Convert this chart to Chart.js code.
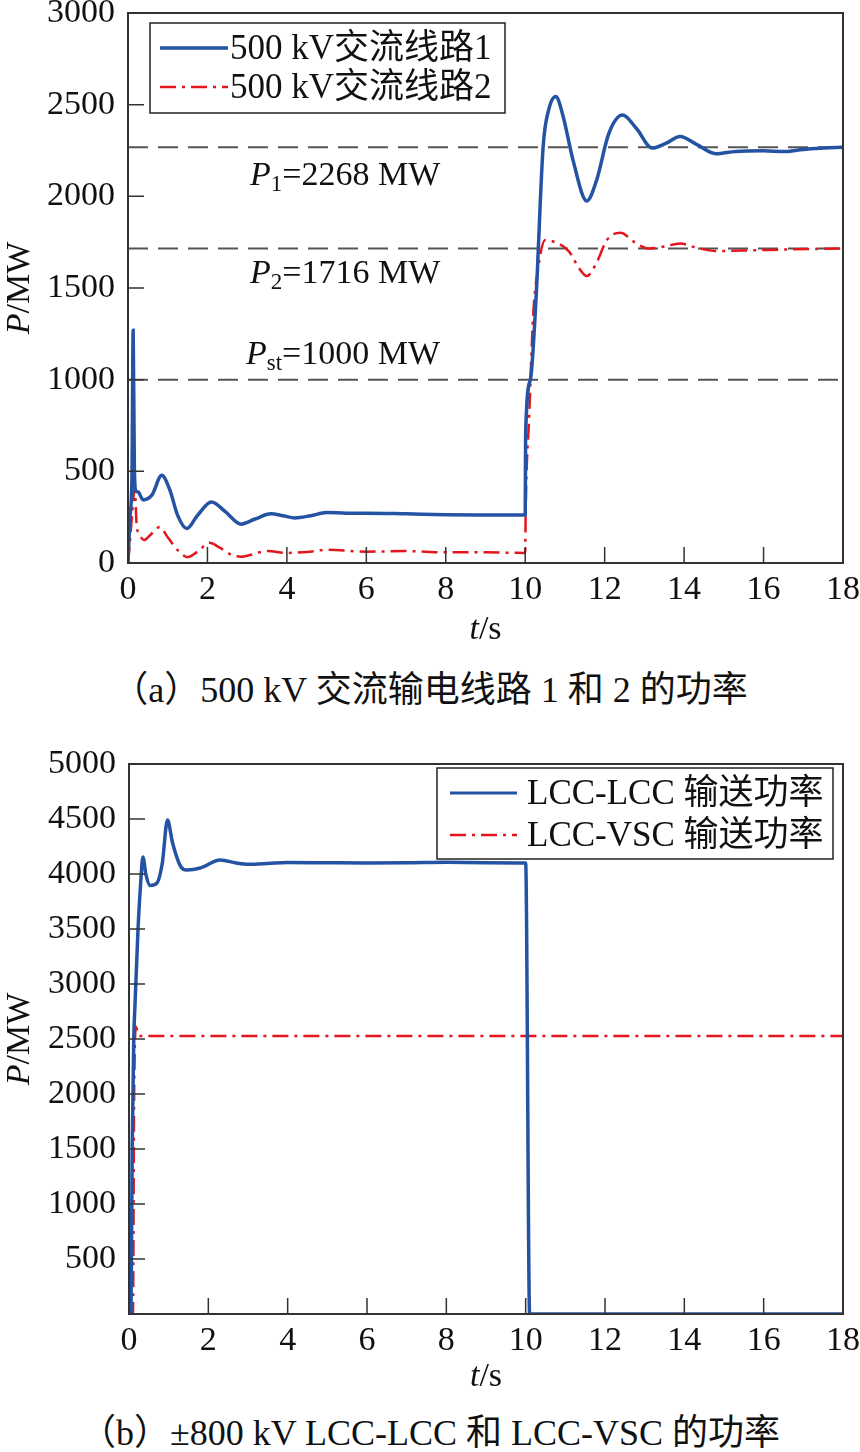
<!DOCTYPE html>
<html lang="zh-CN">
<head>
<meta charset="UTF-8">
<title>交流线路与直流功率</title>
<script src="https://cdn.jsdelivr.net/npm/chart.js"></script>
<style>
    body {
        margin: 0;
        width: 860px;
        height: 1452px;
        position: relative;
        overflow: hidden;
        background: #fff;
        font-family: "Liberation Serif", "Noto Sans CJK SC", serif;
        color: #111;
    }
    canvas {
        position: absolute;
        left: 0;
    }
    #chartA { top: 0; }
    #chartB { top: 740px; }
    .caption {
        position: absolute;
        left: 0;
        width: 860px;
        text-align: center;
        font-size: 36px;
        line-height: 40px;
    }
</style>
</head>
<body>

<canvas id="chartA" width="860" height="650"></canvas>
<div class="caption" style="top:670px">（a）500 kV 交流输电线路 1 和 2 的功率</div>

<canvas id="chartB" width="860" height="660"></canvas>
<div class="caption" style="top:1413px">（b）±800 kV LCC-LCC 和 LCC-VSC 的功率</div>

<script>
    // (a) 500 kV AC lines, [t (s), P (MW)]
    const line1 = [
        [0, 0], [0.05, 250], [0.10, 480], [0.13, 1270], [0.16, 520], [0.20, 390], [0.25, 388],
        [0.38, 344], [0.6, 370], [0.85, 478], [1.05, 400], [1.25, 260], [1.48, 188], [1.75, 260],
        [2.1, 333], [2.45, 280], [2.85, 212], [3.2, 240], [3.6, 268], [3.9, 258], [4.2, 246],
        [4.6, 258], [5.0, 275], [5.5, 272], [6.0, 272], [7.0, 268], [8.0, 263], [9.0, 262],
        [10.0, 262], [10.01, 700], [10.13, 1000], [10.27, 1434], [10.45, 2268], [10.6, 2480],
        [10.77, 2545], [10.95, 2440], [11.2, 2200], [11.55, 1975], [11.8, 2090], [12.1, 2340],
        [12.45, 2443], [12.8, 2370], [13.2, 2263], [13.55, 2290], [13.9, 2326], [14.3, 2285],
        [14.8, 2232], [15.3, 2245], [16.0, 2248], [16.5, 2244], [17.0, 2256], [17.5, 2263], [18.0, 2268]
    ];
    const line2 = [
        [0, 0], [0.05, 120], [0.10, 260], [0.17, 405], [0.22, 200], [0.27, 165], [0.4, 125],
        [0.55, 150], [0.8, 196], [1.0, 140], [1.25, 70], [1.5, 32], [1.75, 62], [2.05, 110],
        [2.3, 85], [2.6, 45], [2.85, 34], [3.1, 45], [3.5, 65], [4.0, 55], [4.5, 60], [5.0, 72],
        [6.0, 62], [7.0, 65], [8.0, 58], [9.0, 58], [10.0, 55], [10.01, 260], [10.1, 800],
        [10.2, 1350], [10.32, 1600], [10.5, 1762], [10.8, 1745], [11.1, 1700], [11.35, 1610],
        [11.55, 1565], [11.8, 1640], [12.05, 1760], [12.4, 1802], [12.75, 1750], [13.1, 1716],
        [13.5, 1726], [13.9, 1743], [14.3, 1720], [14.8, 1702], [15.5, 1704], [16.5, 1710],
        [17.5, 1714], [18.0, 1716]
    ];
    const refValues = [2268, 1716, 1000];

    // (b) ±800 kV DC links, [t (s), P (MW)]
    const lccLcc = [
        [0, 0], [0.05, 0], [0.08, 1500], [0.12, 2500], [0.15, 2800], [0.23, 3520], [0.3, 3950],
        [0.35, 4155], [0.43, 3990], [0.53, 3895], [0.7, 3915], [0.84, 4100], [0.97, 4490],
        [1.1, 4280], [1.3, 4070], [1.46, 4036], [1.8, 4055], [2.3, 4127], [2.7, 4100],
        [3.0, 4088], [3.5, 4095], [4.0, 4105], [5.0, 4102], [6.0, 4100], [7.0, 4102],
        [8.0, 4106], [9.0, 4103], [10.0, 4100], [10.1, 0], [11.0, 0], [18.0, 0]
    ];
    const lccVsc = [
        [0, 0], [0.1, 0], [0.13, 2000], [0.18, 2610], [0.23, 2540], [0.3, 2527], [18.0, 2527]
    ];

    const xTicksMax = 18;
    const legendA = ['500 kV交流线路1', '500 kV交流线路2'];
    const legendB = ['LCC-LCC 输送功率', 'LCC-VSC 输送功率'];

    const BLUE = '#2553a3';
    const RED = '#e3161d';
    const SERIF = '"Liberation Serif", "Noto Sans CJK SC", serif';
    const redDash = [16, 6, 3, 6];
    const TICK_SIZE = 34;

    function font(size, italic) {
        return (italic ? 'italic ' : '') + size + 'px ' + SERIF;
    }

    // draws mixed italic / subscript text
    function richText(ctx, parts, x, y, align, size) {
        let w = 0;
        parts.forEach(p => {
            ctx.font = font(p.size || size, p.it);
            p.w = ctx.measureText(p.t).width;
            w += p.w;
        });
        let cx = align === 'center' ? x - w / 2 : x;
        ctx.textAlign = 'left';
        ctx.textBaseline = 'middle';
        ctx.fillStyle = '#111';
        parts.forEach(p => {
            ctx.font = font(p.size || size, p.it);
            ctx.fillText(p.t, cx, y + (p.dy || 0));
            cx += p.w;
        });
    }

    function makeFrame(cfg) {
        return {
            id: 'frame',
            afterDatasetsDraw(chart) {
                const ctx = chart.ctx;
                const a = chart.chartArea;
                const xs = chart.scales.x, ys = chart.scales.y;
                ctx.save();
                ctx.strokeStyle = '#333';
                ctx.lineWidth = 2;
                ctx.strokeRect(a.left, a.top, a.right - a.left, a.bottom - a.top);

                // inward tick marks
                ctx.lineWidth = 1.5;
                ctx.beginPath();
                ys.ticks.forEach(t => {
                    const py = ys.getPixelForValue(t.value);
                    ctx.moveTo(a.left, py);
                    ctx.lineTo(a.left + 16, py);
                });
                xs.ticks.forEach(t => {
                    const px = xs.getPixelForValue(t.value);
                    ctx.moveTo(px, a.bottom);
                    ctx.lineTo(px, a.bottom - 16);
                });
                ctx.stroke();

                // axis titles
                richText(ctx, [{t: 't', it: true}, {t: '/s'}], (a.left + a.right) / 2, cfg.tY, 'center', 34);
                ctx.save();
                ctx.translate(20, (a.top + a.bottom) / 2);
                ctx.rotate(-Math.PI / 2);
                richText(ctx, [{t: 'P', it: true}, {t: '/MW'}], 0, 0, 'center', 34);
                ctx.restore();

                // reference labels
                (cfg.notes || []).forEach(n => {
                    richText(ctx, n.parts, n.x, ys.getPixelForValue(n.value) + n.off, 'left', 34);
                });

                // legend box
                const L = cfg.legend;
                ctx.fillStyle = '#fff';
                ctx.fillRect(L.box[0], L.box[1], L.box[2] - L.box[0], L.box[3] - L.box[1]);
                ctx.strokeStyle = '#222';
                ctx.lineWidth = 1.5;
                ctx.strokeRect(L.box[0], L.box[1], L.box[2] - L.box[0], L.box[3] - L.box[1]);
                L.items.forEach(it => {
                    ctx.beginPath();
                    ctx.strokeStyle = it.color;
                    ctx.lineWidth = it.width;
                    ctx.setLineDash(it.dash);
                    ctx.moveTo(L.x0, it.y);
                    ctx.lineTo(L.x1, it.y);
                    ctx.stroke();
                    ctx.setLineDash([]);
                    richText(ctx, [{t: it.label}], L.tx, it.y + 2, 'left', 35);
                });
                ctx.restore();
            }
        };
    }

    function toXY(arr) {
        return arr.map(([x, y]) => ({x, y}));
    }

    function curve(arr, color, width, dash) {
        return {
            data: toXY(arr),
            borderColor: color,
            borderWidth: width,
            borderDash: dash,
            pointRadius: 0,
            fill: false,
            cubicInterpolationMode: 'monotone'
        };
    }

    function options(yMax, yLeft, xH, padTop, hideZero) {
        return {
            responsive: false,
            animation: false,
            layout: {padding: {top: padTop, right: 17, left: 0, bottom: 0}},
            plugins: {legend: {display: false}, tooltip: {enabled: false}},
            scales: {
                x: {
                    type: 'linear', min: 0, max: xTicksMax,
                    grid: {display: false, drawTicks: false},
                    border: {display: false},
                    ticks: {stepSize: 2, padding: 7, color: '#111', font: {family: SERIF, size: TICK_SIZE}, maxRotation: 0, autoSkip: false},
                    afterFit(s) { s.height = xH; s.paddingLeft = 0; s.paddingRight = 0; }
                },
                y: {
                    min: 0, max: yMax,
                    grid: {display: false, drawTicks: false},
                    border: {display: false},
                    ticks: {
                        stepSize: 500, padding: 13, color: '#111', font: {family: SERIF, size: TICK_SIZE},
                        callback: v => (hideZero && v === 0) ? '' : v
                    },
                    afterFit(s) { s.width = yLeft; s.paddingTop = 0; s.paddingBottom = 0; }
                }
            }
        };
    }

    // chart (a)
    const refSets = refValues.map(v => ({
        data: [{x: 0, y: v}, {x: xTicksMax, y: v}],
        borderColor: '#555', borderWidth: 2, borderDash: [20, 10], pointRadius: 0, fill: false
    }));

    new Chart(document.getElementById('chartA'), {
        type: 'line',
        data: {datasets: [curve(line1, BLUE, 3.5, []), curve(line2, RED, 2.5, redDash), ...refSets]},
        options: options(3000, 128, 87, 13, false),
        plugins: [makeFrame({
            tY: 630,
            notes: [
                {value: refValues[0], off: 29, x: 250, parts: [{t: 'P', it: true}, {t: '1', size: 23, dy: 9}, {t: '=2268 MW'}]},
                {value: refValues[1], off: 26, x: 250, parts: [{t: 'P', it: true}, {t: '2', size: 23, dy: 9}, {t: '=1716 MW'}]},
                {value: refValues[2], off: -25, x: 246, parts: [{t: 'P', it: true}, {t: 'st', size: 23, dy: 9}, {t: '=1000 MW'}]}
            ],
            legend: {
                box: [150, 23, 505, 113], x0: 160, x1: 228, tx: 230,
                items: [
                    {label: legendA[0], color: BLUE, width: 3.5, dash: [], y: 48},
                    {label: legendA[1], color: RED, width: 2.5, dash: redDash, y: 87}
                ]
            }
        })]
    });

    // chart (b)
    new Chart(document.getElementById('chartB'), {
        type: 'line',
        data: {datasets: [curve(lccLcc, BLUE, 3.5, []), curve(lccVsc, RED, 2.5, redDash)]},
        options: options(5000, 129, 86, 24, true),
        plugins: [makeFrame({
            tY: 637,
            legend: {
                box: [437, 28, 833, 119], x0: 450, x1: 517, tx: 527,
                items: [
                    {label: legendB[0], color: BLUE, width: 3, dash: [], y: 53},
                    {label: legendB[1], color: RED, width: 2.5, dash: redDash, y: 95}
                ]
            }
        })]
    });
</script>
</body>
</html>
